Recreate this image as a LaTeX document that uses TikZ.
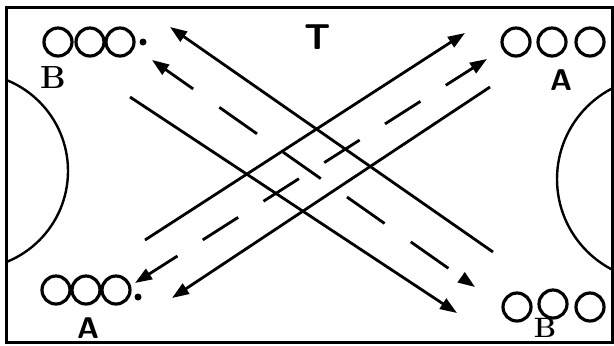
\documentclass[tikz,border=0pt]{standalone}
\usepackage{tikz}
\usetikzlibrary{arrows.meta}

\begin{document}
\begin{tikzpicture}[
    x=0.5pt, y=-0.5pt,
    player/.style={circle, draw, line width=1.6pt, minimum size=14pt, inner sep=0pt},
    ball/.style={circle, fill, minimum size=3.5pt, inner sep=0pt},
    letter/.style={font=\sffamily\bfseries\fontsize{15}{15}\selectfont, inner sep=0pt},
    tip/.tip={Triangle[length=8.5pt, width=6pt]},
    run/.style={-tip, line width=1.4pt},
    pass/.style={tip-tip, line width=1.4pt, dash pattern=on 21pt off 15pt},
]
    \useasboundingbox (0,0) rectangle (614,345);

    % Field and the two circles (clipped to the field)
    \draw[line width=1.5pt] (6,7) rectangle (612,342);
    \begin{scope}
        \clip (6,7) rectangle (612,342);
        \draw[line width=1.2pt] (-30,171) circle[radius=98];
        \draw[line width=1.2pt] (659,179) circle[radius=102];
    \end{scope}

    % Players
    \foreach \x [count=\i] in {58,90,120} {
        \node[player] (bl-\i) at (\x,42) {};
    }
    \foreach \x [count=\i] in {516,552,590} {
        \node[player] (ar-\i) at (\x,42) {};
    }
    \foreach \x [count=\i] in {56,86,116} {
        \node[player] (al-\i) at (\x,290) {};
    }
    \node[player] (br-1) at (517,307) {};
    \node[player] (br-2) at (553,304) {};
    \node[player] (br-3) at (590,307) {};

    % Balls
    \node[ball] (bl-ball) at (143,42) {};
    \node[ball] (al-ball) at (138,297) {};

    % Letters
    \node[letter, font=\sffamily\bfseries\fontsize{18}{18}\selectfont] (t) at (318,37) {T};
    \node[letter, font=\bfseries\fontsize{16}{16}\selectfont] (b-top) at (53,78) {B};
    \node[letter] (a-top) at (561,80) {A};
    \node[letter] (a-bot) at (88,328) {A};
    \node[letter, font=\bfseries\fontsize{14}{14}\selectfont] (b-bot) at (545,328) {B};

    % Lines running down to the right
    \coordinate (dr1-a) at (493,252);
    \coordinate (dr1-b) at (170,27);
    \coordinate (dr2-a) at (152,60);
    \coordinate (dr2-b) at (475,287);
    \coordinate (dr3-a) at (130,97);
    \coordinate (dr3-b) at (457,313);
    \draw[run] (dr1-a) -- (dr1-b);
    \draw[pass, dash pattern=on 23pt off 16pt, dash phase=6pt] (dr2-a) -- (dr2-b);
    \draw[run] (dr3-a) -- (dr3-b);

    % Lines running up to the right
    \coordinate (ur1-a) at (145,240);
    \coordinate (ur1-b) at (465,33);
    \coordinate (ur2-a) at (135,283);
    \coordinate (ur2-b) at (487,59);
    \coordinate (ur3-a) at (490,87);
    \coordinate (ur3-b) at (172,298);
    \draw[run] (ur1-a) -- (ur1-b);
    \draw[pass, dash phase=4pt] (ur2-a) -- (ur2-b);
    \draw[run] (ur3-a) -- (ur3-b);
\end{tikzpicture}
\end{document}
